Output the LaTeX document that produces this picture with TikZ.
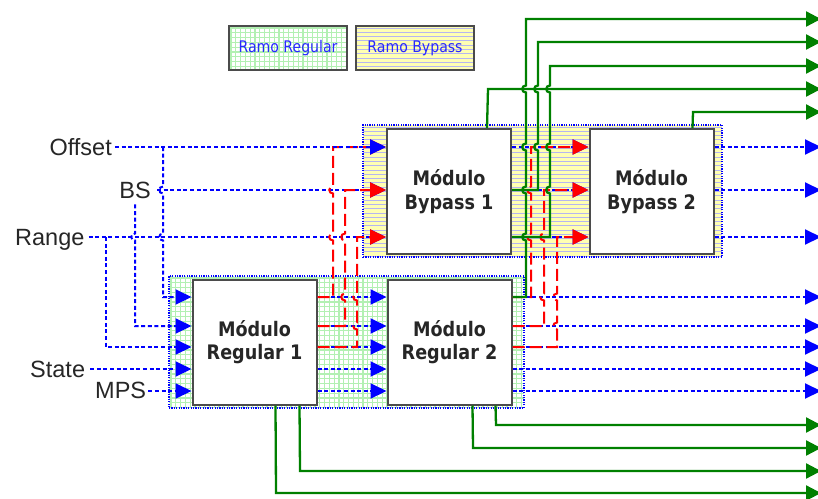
\documentclass[tikz,border=0pt]{standalone}
\usepackage{fontspec}
\setmainfont{Liberation Sans}
\newfontfamily\tah[FakeStretch=0.88]{DejaVu Sans}
\usetikzlibrary{arrows.meta,calc}

\definecolor{bl}{RGB}{0,0,255}
\definecolor{rd}{RGB}{255,0,0}
\definecolor{gr}{RGB}{0,128,0}
\definecolor{gridgreen}{RGB}{178,240,178}
\definecolor{padyellow}{RGB}{255,255,178}
\definecolor{hatchblue}{RGB}{182,182,240}
\definecolor{boxgray}{RGB}{75,75,75}
\definecolor{legendtext}{RGB}{40,40,255}

% line hops: a small bump to the left on a vertical line
\newcommand\hpu[2]{-- (#1,#2+3.5) .. controls (#1-5,#2+3.5) and (#1-5,#2-3.5) .. (#1,#2-3.5)}
\newcommand\hpd[2]{-- (#1,#2-3.5) .. controls (#1-5,#2-3.5) and (#1-5,#2+3.5) .. (#1,#2+3.5)}

% fill patterns for the two branch areas
\newcommand\greengrid[4]{%
  \begin{scope}
    \clip (#1,#2) rectangle (#3,#4);
    \fill[white] (#1,#2) rectangle (#3,#4);
    \foreach \k in {0,4.8,...,360} {\draw[gridgreen,line width=1.1pt] (#1+\k+2,#2) -- (#1+\k+2,#4);}
    \foreach \k in {0,4.8,...,140} {\draw[gridgreen,line width=1.1pt] (#1,#2+\k+2) -- (#3,#2+\k+2);}
  \end{scope}}
\newcommand\yellowhatch[4]{%
  \begin{scope}
    \clip (#1,#2) rectangle (#3,#4);
    \fill[padyellow] (#1,#2) rectangle (#3,#4);
    \foreach \k in {0,4.3,...,140} {\draw[hatchblue,line width=0.9pt] (#1,#2+\k+2) -- (#3,#2+\k+2);}
  \end{scope}}

\tikzset{
  sig/.style={bl, line width=2pt, dash pattern=on 4pt off 2.6pt},
  sigarr/.style={sig, -{Triangle[length=16pt,width=15pt]}},
  fb/.style={rd, line width=2pt, dash pattern=on 12pt off 5pt},
  fbarr/.style={fb, -{Triangle[length=16pt,width=15pt]}},
  outw/.style={gr, line width=2.3pt, -{Triangle[length=15pt,width=15pt]}},
  module/.style={draw=boxgray, line width=2pt, fill=white, minimum width=124pt,
    minimum height=125pt, inner sep=0pt, align=center,
    font=\tah\bfseries\fontsize{20}{23.5}\selectfont, text=black!85},
  lbl/.style={font=\fontsize{23.5}{26}\selectfont, text=black!85, inner sep=0pt},
  legend/.style={draw=boxgray, line width=2pt, minimum width=118pt, minimum height=44pt,
    inner sep=0pt, font=\tah\fontsize{16}{18}\selectfont, text=legendtext},
  zone/.style={draw=bl, line width=1.3pt, dash pattern=on 1.2pt off 1.2pt, inner sep=0pt}
}

\begin{document}
\begin{tikzpicture}[x=1pt,y=-1pt]
\useasboundingbox (0,0) rectangle (818,498);

% legend
\greengrid{229}{26}{347}{70}
\yellowhatch{356}{26}{474}{70}
\node[legend] (LR) at (288,48) {Ramo Regular};
\node[legend] (LB) at (415,48) {Ramo Bypass};

% branch areas
\yellowhatch{363}{125}{722}{257}
\node[zone, minimum width=359pt, minimum height=132pt] (ZB) at (542.5,191) {};
\greengrid{169}{276}{524}{408}
\node[zone, minimum width=355pt, minimum height=132pt] (ZR) at (346.5,342) {};

% modules
\node[module] (B1) at (449,191.5) {Módulo\\Bypass 1};
\node[module] (B2) at (651.5,191.5) {Módulo\\Bypass 2};
\node[module] (R1) at (254.5,342) {Módulo\\Regular 1};
\node[module] (R2) at (449.5,342) {Módulo\\Regular 2};

% input labels
\node[lbl, anchor=base east] (Offset) at (112,155.5) {Offset};
\node[lbl, anchor=base] (BS) at (135,198) {BS};
\node[lbl, anchor=base west] (Range) at (15,245.5) {Range};
\node[lbl, anchor=base west] (State) at (30,377) {State};
\node[lbl, anchor=base west] (MPS) at (95,398) {MPS};

% signal rows
\coordinate (b1) at (0,147);
\coordinate (b2) at (0,190);
\coordinate (b3) at (0,237);
\coordinate (r1) at (0,297);
\coordinate (r2) at (0,326);
\coordinate (r3) at (0,347);
\coordinate (r4) at (0,369);
\coordinate (r5) at (0,391);

% branch points on the input lines
\coordinate (jOff) at (163,147);
\coordinate (jBS) at (157,190);
\coordinate (jRange) at (106,237);

% free ends on the right
\foreach \n/\yy in {g1/19,g2/42,g3/66,g4/89,g5/112,g6/425,g7/448,g8/471,g9/493,
  s1/147,s2/190,s3/237,t1/297,t2/326,t3/347,t4/369,t5/391}
  \coordinate (o\n) at (821,\yy);

% inputs
\draw[sigarr] (jOff) \hpd{163}{190} \hpd{163}{237} -- (163,297) -- (R1.west|-r1);
\draw[sigarr] (jBS) -- (B1.west|-b2);
\draw[sigarr] ($(BS.south)+(0,6)$) \hpd{135}{237} -- (135,326) -- (R1.west|-r2);
\draw[sigarr] ($(Range.east|-b3)+(4,0)$) -- (B1.west|-b3);
\draw[sigarr] (jRange) -- (106,347) -- (R1.west|-r3);
\draw[sigarr] ($(State.east|-r4)+(5,0)$) -- (R1.west|-r4);
\draw[sigarr] ($(MPS.east|-r5)+(2,0)$) -- (R1.west|-r5);

% regular chain and bypass chain
\foreach \r in {r1,r2,r3,r4,r5} \draw[sigarr] (R1.east|-\r) -- (R2.west|-\r);
\foreach \r in {b1,b2,b3} \draw[sigarr] (B1.east|-\r) -- (B2.west|-\r);

% outputs to the right
\foreach \r/\o in {b1/s1,b2/s2,b3/s3} \draw[sigarr] (B2.east|-\r) -- (o\o);
\foreach \r/\o in {r1/t1,r2/t2,r3/t3,r4/t4,r5/t5} \draw[sigarr] (R2.east|-\r) -- (o\o);

% feedback from the regular modules into the bypass modules
\draw[fbarr] (R1.east|-r1) -- (333,297) \hpu{333}{237} \hpu{333}{190} -- (333,147) -- (B1.west|-b1);
\draw[fbarr] (R1.east|-r2) -- (345,326) \hpu{345}{297} \hpu{345}{237} -- (345,190) -- (B1.west|-b2);
\draw[fbarr] (R1.east|-r3) -- (357,347) \hpu{357}{326} \hpu{357}{297} -- (357,237) -- (B1.west|-b3);
\draw[fbarr] (R2.east|-r1) -- (531,297) \hpu{531}{237} \hpu{531}{190} -- (531,147) -- (B2.west|-b1);
\draw[fbarr] (R2.east|-r2) -- (544,326) \hpu{544}{297} \hpu{544}{237} -- (544,190) -- (B2.west|-b2);
\draw[fbarr] (R2.east|-r3) -- (557,347) \hpu{557}{326} \hpu{557}{297} -- (557,237) -- (B2.west|-b3);

% offset line on top
\draw[sigarr] ($(Offset.east|-b1)+(3,0)$) -- (B1.west|-b1);

% solid outputs
\draw[outw] (R2.east|-r1) -- (526,297) \hpu{526}{237} \hpu{526}{190} \hpu{526}{147} \hpu{526}{89} -- (526,19) -- (og1);
\draw[outw] (B1.east|-b2) -- (538,190) \hpu{538}{147} \hpu{538}{89} -- (538,42) -- (og2);
\draw[outw] (B1.east|-b3) -- (550,237) \hpu{550}{190} \hpu{550}{147} \hpu{550}{89} -- (550,66) -- (og3);
\draw[outw] ($(B1.north west)+(101,0)$) -- (488,89) -- (og4);
\draw[outw] ($(B2.north west)+(104,0)$) -- (693,112) -- (og5);
\draw[outw] ($(R2.south west)+(109,0)$) -- (496,425) -- (og6);
\draw[outw] ($(R2.south west)+(86,0)$) -- (473,448) -- (og7);
\draw[outw] ($(R1.south west)+(108,0)$) -- (300,471) -- (og8);
\draw[outw] ($(R1.south west)+(84,0)$) -- (276,493) -- (og9);
\end{tikzpicture}
\end{document}
